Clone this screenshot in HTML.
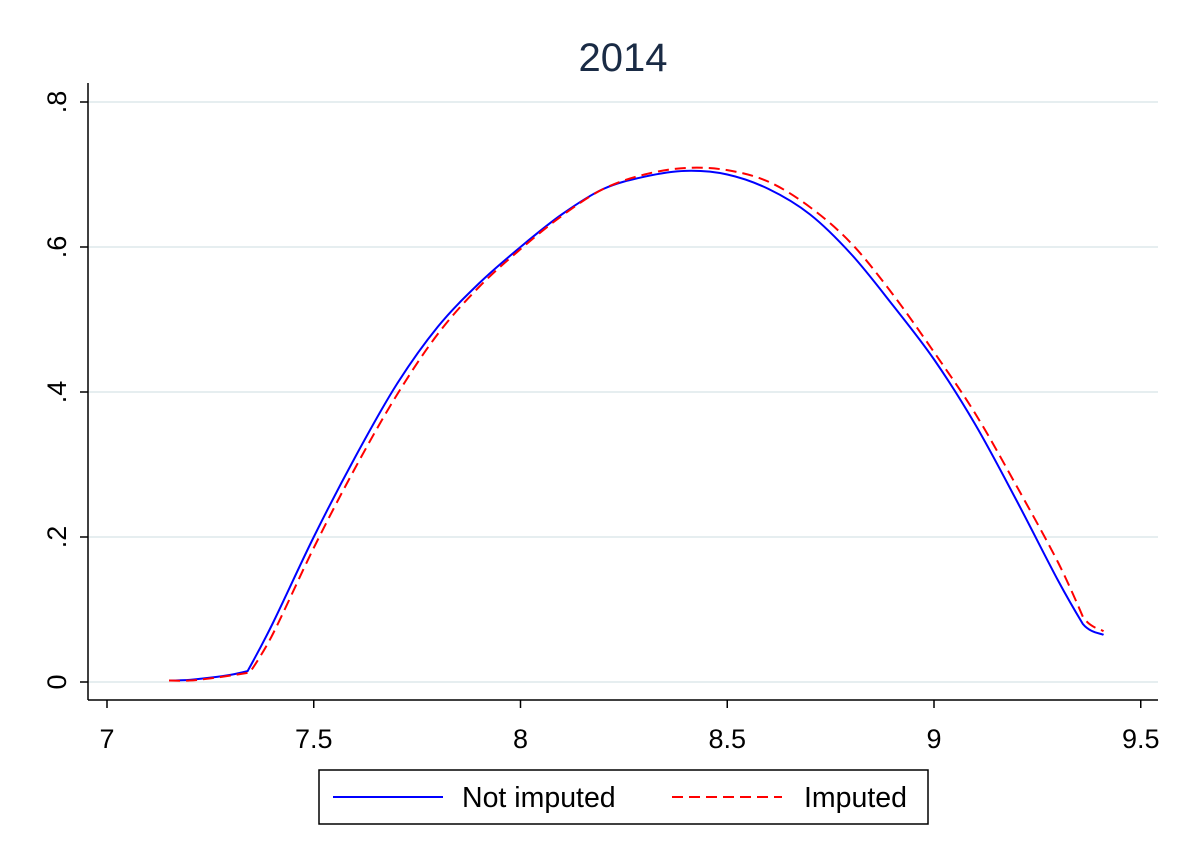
<!DOCTYPE html>
<html><head><meta charset="utf-8"><style>
body{margin:0;background:#fff;}
svg{display:block;font-family:"Liberation Sans",Arial,sans-serif;}
</style></head><body>
<svg id="chart" width="1190" height="866">
<rect x="0" y="0" width="1190" height="866" fill="#fff"/>
<text x="623" y="71" font-size="40" fill="#1a2b45" text-anchor="middle">2014</text>
<g id="grid"></g>
<g id="axes"></g>
<g id="series"></g>
<g>
<rect x="319" y="770" width="609" height="54" fill="#fff" stroke="#000" stroke-width="1.5"/>
<line x1="333" y1="797" x2="443" y2="797" stroke="#0000ff" stroke-width="2"/>
<text x="462" y="807" font-size="28.5">Not imputed</text>
<line x1="672" y1="797" x2="782" y2="797" stroke="#ff0000" stroke-width="2" stroke-dasharray="11,6"/>
<text x="804" y="807" font-size="28.5">Imputed</text>
</g>
</svg>
<script>
const xTicks=[7,7.5,8,8.5,9,9.5];
const xTickLabels=["7","7.5","8","8.5","9","9.5"];
const yTicks=[0,0.2,0.4,0.6,0.8];
const yTickLabels=["0",".2",".4",".6",".8"];
const xNot=[7.15,7.2,7.25,7.3,7.34,7.4,7.5,7.6,7.7,7.8,7.9,8.0,8.1,8.2,8.3,8.4,8.5,8.6,8.7,8.8,8.9,9.0,9.1,9.2,9.3,9.36,9.41];
const yNot=[0.002,0.003,0.006,0.01,0.015,0.08,0.2,0.31,0.41,0.49,0.55,0.6,0.645,0.68,0.697,0.705,0.7,0.68,0.645,0.59,0.52,0.445,0.355,0.25,0.14,0.08,0.065];
const xImp=[7.15,7.2,7.25,7.3,7.345,7.4,7.5,7.6,7.7,7.8,7.9,8.0,8.1,8.2,8.3,8.4,8.5,8.6,8.7,8.8,8.9,9.0,9.1,9.2,9.3,9.36,9.41];
const yImp=[0.002,0.002,0.005,0.009,0.013,0.065,0.185,0.295,0.395,0.48,0.545,0.597,0.643,0.68,0.70,0.709,0.706,0.69,0.655,0.605,0.535,0.455,0.37,0.27,0.165,0.09,0.07];
const NS="http://www.w3.org/2000/svg";
const X=v=>107+(v-7)*413.5;
const Y=v=>682-v*725;
function mk(tag,attrs,parent){const e=document.createElementNS(NS,tag);for(const k in attrs)e.setAttribute(k,attrs[k]);parent.appendChild(e);return e;}
function smooth(xs,ys){
 const p=xs.map((x,i)=>[X(x),Y(ys[i])]);
 let d='M'+p[0][0]+','+p[0][1];
 for(let i=0;i<p.length-1;i++){
  const a=p[i-1]||p[i],b=p[i],c=p[i+1],e=p[i+2]||c;
  // keep kinks at ends of smooth region (indices 4 and last-2)
  const k1=(i===4||i===0)?0:1/6, k2=(i+1===4||i+1===p.length-2)?0:1/6;
  d+=` C${b[0]+(c[0]-a[0])*k1},${b[1]+(c[1]-a[1])*k1} ${c[0]-(e[0]-b[0])*k2},${c[1]-(e[1]-b[1])*k2} ${c[0]},${c[1]}`;
 }
 return d;
}
const grid=document.getElementById('grid'),axes=document.getElementById('axes'),series=document.getElementById('series');
yTicks.forEach((v,i)=>{
 const g=mk('line',{x1:88,x2:1158,y1:Y(v),y2:Y(v),stroke:'#e6eef0','stroke-width':2},grid);
 
 
 const t=mk('line',{x1:80,x2:88,y1:Y(v),y2:Y(v),stroke:'#000','stroke-width':1.5},axes);
 
 
 const l=mk('text',{x:0,y:0,'font-size':27,'text-anchor':'middle',transform:`translate(66,${Y(v)}) rotate(-90)`},axes);
 l.textContent=yTickLabels[i];
 
 
});
const ya=mk('line',{x1:88,x2:88,y1:83,y2:700,stroke:'#000','stroke-width':1.5},axes);


const xa=mk('line',{x1:88,x2:1158,y1:700,y2:700,stroke:'#000','stroke-width':1.5},axes);


xTicks.forEach((v,i)=>{
 const t=mk('line',{x1:X(v),x2:X(v),y1:700,y2:708,stroke:'#000','stroke-width':1.5},axes);
 
 
 const l=mk('text',{x:X(v),y:748,'font-size':27,'text-anchor':'middle'},axes);
 l.textContent=xTickLabels[i];
 
 
});
const p1=mk('path',{d:smooth(xNot,yNot),fill:'none',stroke:'#0000ff','stroke-width':2},series);


const p2=mk('path',{d:smooth(xImp,yImp),fill:'none',stroke:'#ff0000','stroke-width':2,'stroke-dasharray':'11,6'},series);


</script>
</body></html>
